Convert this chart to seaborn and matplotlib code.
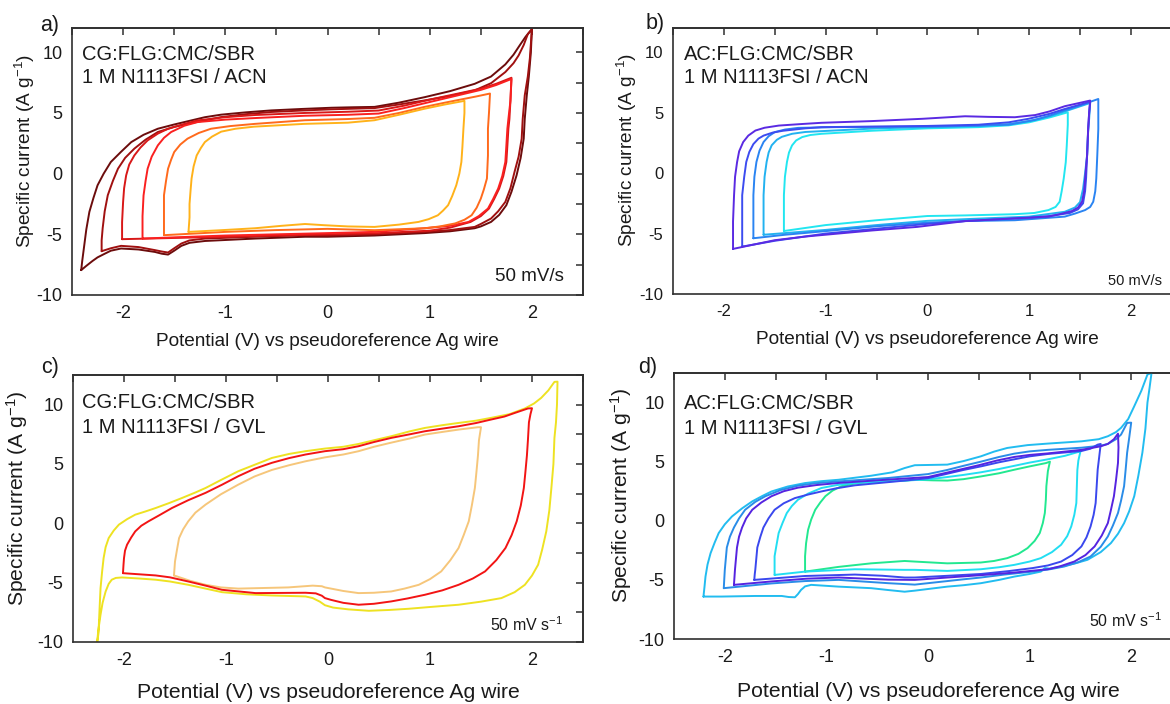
import matplotlib
matplotlib.use("Agg")
import matplotlib.pyplot as plt
from matplotlib.ticker import MultipleLocator
import seaborn as sns

# ---------------- data (potential E in V, specific current I in A/g) ----------------
# each loop: anodic branch (left -> right) followed by cathodic branch (right -> left)
# ---- Panel a: CG / ACN ----
a1_E = [-2.41, -2.40, -2.38, -2.36, -2.33, -2.29, -2.25, -2.19, -2.12, -2.02, -1.92, -1.8, -1.66, -1.5, -1.33, -1.2,
        -1.04, -0.8, -0.55, -0.25, 0.04, 0.25, 0.46, 0.7, 0.95, 1.2, 1.44, 1.6, 1.74, 1.82, 1.88, 1.94, 2.0,
        1.99, 1.97, 1.95, 1.93, 1.92, 1.89, 1.85, 1.8, 1.75, 1.68, 1.6, 1.5, 1.44, 1.2, 0.95, 0.46, 0.0, -0.22,
        -0.71, -1.2, -1.35, -1.43, -1.5, -1.56, -1.62, -1.69, -1.85, -2.02, -2.12, -2.18, -2.25, -2.3, -2.36, -2.41]
a1_I = [-7.95, -7.2, -5.9, -4.6, -3.15, -2.0, -0.96, 0.0, 0.96, 1.8, 2.6, 3.2, 3.7, 4.05, 4.39, 4.65,
        4.86, 5.05, 5.21, 5.33, 5.43, 5.47, 5.5, 5.85, 6.3, 6.8, 7.4, 8.0, 9.0, 9.8, 10.56, 11.3, 11.9,
        10.0, 8.0, 6.45, 4.5, 2.88, 1.3, -0.14, -1.5, -2.6, -3.4, -3.98, -4.35, -4.5, -4.75, -4.9, -5.1, -5.2, -5.2,
        -5.35, -5.55, -5.7, -5.95, -6.35, -6.67, -6.6, -6.45, -6.25, -6.17, -6.35, -6.6, -6.9, -7.2, -7.6, -7.95]
a2_E = [-2.21, -2.21, -2.2, -2.18, -2.15, -2.1, -2.05, -1.98, -1.89, -1.78, -1.66, -1.5, -1.33, -1.04, -0.8, -0.55,
        -0.25, 0.04, 0.46, 0.7, 0.95, 1.2, 1.44, 1.6, 1.74, 1.82, 1.87, 1.92, 1.96, 2.0,
        1.98, 1.96, 1.93, 1.91, 1.9, 1.87, 1.83, 1.79, 1.74, 1.67, 1.6, 1.5, 1.44, 1.2, 0.95, 0.46, 0.0, -0.22,
        -0.71, -1.2, -1.35, -1.43, -1.5, -1.56, -1.62, -1.69, -1.85, -2.02, -2.12, -2.21]
a2_I = [-6.39, -5.5, -4.5, -3.1, -1.78, -0.6, 0.41, 1.3, 2.06, 2.8, 3.43, 3.85, 4.17, 4.66, 4.9, 5.08,
        5.2, 5.3, 5.4, 5.7, 6.03, 6.4, 6.86, 7.45, 8.37, 9.1, 9.74, 10.6, 11.5, 11.9,
        9.5, 8.0, 6.45, 4.5, 2.88, 1.4, 0.14, -1.2, -2.33, -3.1, -3.7, -4.15, -4.39, -4.65, -4.8, -5.0, -5.1, -5.07,
        -5.2, -5.35, -5.5, -5.76, -6.15, -6.5, -6.42, -6.3, -6.05, -5.95, -6.15, -6.39]
a3_E = [-2.01, -2.01, -2.0, -1.99, -1.97, -1.94, -1.89, -1.83, -1.76, -1.66, -1.56, -1.4, -1.27, -1.0, -0.71, -0.22,
        0.2, 0.5, 0.75, 1.0, 1.25, 1.5, 1.65, 1.8,
        1.79, 1.78, 1.77, 1.76, 1.75, 1.72, 1.68, 1.63, 1.58, 1.5, 1.4, 1.2, 1.0, 0.5, 0.0, -0.5, -1.0, -1.5, -2.01]
a3_I = [-5.4, -4.0, -2.33, -1.2, -0.14, 0.75, 1.5, 2.15, 2.74, 3.3, 3.7, 4.1, 4.39, 4.65, 4.83, 5.0,
        5.1, 5.2, 5.6, 6.1, 6.55, 7.0, 7.4, 7.9,
        6.0, 4.5, 3.7, 2.3, 0.96, -0.2, -1.23, -2.1, -2.88, -3.5, -3.98, -4.45, -4.7, -4.9, -5.0, -5.1, -5.2, -5.3, -5.4]
a4_E = [-1.81, -1.81, -1.8, -1.78, -1.76, -1.72, -1.66, -1.6, -1.53, -1.4, -1.27, -1.0, -0.71, -0.22, 0.2, 0.5,
        0.75, 1.0, 1.25, 1.5, 1.65, 1.8,
        1.79, 1.77, 1.76, 1.75, 1.74, 1.71, 1.67, 1.62, 1.57, 1.48, 1.38, 1.2, 0.95, 0.46, 0.0, -0.5, -1.0, -1.5, -1.81]
a4_I = [-5.35, -3.5, -1.8, -0.6, 0.41, 1.4, 2.33, 2.95, 3.43, 3.95, 4.25, 4.45, 4.58, 4.77, 4.85, 4.95,
        5.4, 5.9, 6.4, 6.9, 7.3, 7.8,
        6.0, 4.5, 3.7, 2.3, 0.96, -0.2, -1.23, -2.1, -2.88, -3.5, -3.98, -4.3, -4.5, -4.8, -4.9, -5.0, -5.1, -5.25, -5.35]
a5_E = [-1.6, -1.6, -1.6, -1.58, -1.56, -1.53, -1.5, -1.44, -1.37, -1.26, -1.14, -0.95, -0.71, -0.22, 0.2, 0.46,
        0.7, 0.95, 1.15, 1.3, 1.45, 1.59,
        1.58, 1.57, 1.57, 1.56, 1.53, 1.5, 1.46, 1.41, 1.34, 1.25, 1.1, 0.95, 0.46, 0.0, -0.5, -1.0, -1.6]
a5_I = [-5.07, -3.4, -1.78, -0.6, 0.41, 1.15, 1.78, 2.4, 2.88, 3.35, 3.7, 3.92, 4.1, 4.4, 4.5, 4.6,
        5.0, 5.5, 5.85, 6.1, 6.35, 6.6,
        5.0, 3.7, 1.5, -0.4, -1.3, -2.06, -2.8, -3.43, -3.8, -4.1, -4.35, -4.5, -4.66, -4.55, -4.65, -4.8, -5.07]
a6_E = [-1.36, -1.35, -1.35, -1.34, -1.33, -1.31, -1.28, -1.24, -1.2, -1.13, -1.04, -0.9, -0.72, -0.23, 0.2, 0.46,
        0.7, 0.95, 1.15, 1.31, 1.34,
        1.34, 1.33, 1.32, 1.31, 1.29, 1.26, 1.22, 1.18, 1.13, 1.08, 0.99, 0.89, 0.7, 0.46, 0.2, -0.03, -0.22, -0.45,
        -0.71, -1.04, -1.36]
a6_I = [-4.8, -3.6, -2.5, -1.4, -0.4, 0.6, 1.5, 2.1, 2.6, 3.05, 3.46, 3.7, 3.87, 4.1, 4.2, 4.4,
        4.85, 5.35, 5.7, 5.95, 6.0,
        5.0, 3.7, 2.2, 0.96, 0.0, -0.96, -1.85, -2.6, -3.05, -3.43, -3.75, -3.98, -4.2, -4.39, -4.35, -4.25, -4.15, -4.3,
        -4.5, -4.66, -4.8]

# ---- Panel b: AC / ACN ----
b1_E = [-1.91, -1.91, -1.9, -1.89, -1.87, -1.85, -1.81, -1.76, -1.69, -1.6, -1.46, -1.25, -1.04, -0.55, -0.05, 0.37,
        0.6, 0.86, 1.06, 1.2, 1.35, 1.6,
        1.59, 1.58, 1.57, 1.55, 1.54, 1.52, 1.48, 1.42, 1.3, 1.19, 0.86, 0.37, -0.1, -0.55, -1.2, -1.5, -1.7, -1.91]
b1_I = [-6.27, -4.0, -1.83, -0.3, 0.92, 1.8, 2.57, 3.1, 3.52, 3.75, 3.93, 4.05, 4.16, 4.3, 4.49, 4.7,
        4.65, 4.62, 4.8, 5.1, 5.53, 6.0,
        5.0, 3.66, 1.5, -0.45, -1.5, -2.37, -2.85, -3.14, -3.4, -3.6, -3.74, -3.97, -4.45, -4.75, -5.25, -5.55, -5.9, -6.27]
b2_E = [-1.82, -1.82, -1.82, -1.8, -1.78, -1.75, -1.71, -1.66, -1.61, -1.52, -1.42, -1.2, -1.04, 0.0, 0.5, 0.8,
        1.0, 1.2, 1.35, 1.6,
        1.59, 1.58, 1.57, 1.56, 1.55, 1.53, 1.48, 1.4, 1.2, 1.0, 0.4, 0.0, -0.5, -1.0, -1.5, -1.82]
b2_I = [-6.08, -4.0, -1.83, -0.3, 0.92, 1.75, 2.4, 2.85, 3.1, 3.35, 3.5, 3.7, 3.8, 3.9, 4.0, 4.2,
        4.5, 4.9, 5.3, 5.9,
        5.0, 3.5, 1.5, -0.4, -1.5, -2.5, -3.0, -3.3, -3.55, -3.7, -3.95, -4.2, -4.6, -5.0, -5.6, -6.08]
b3_E = [-1.71, -1.71, -1.71, -1.7, -1.68, -1.65, -1.61, -1.56, -1.5, -1.4, -1.27, -0.9, 0.0, 0.4, 0.8, 1.06,
        1.2, 1.35, 1.5, 1.68,
        1.68, 1.68, 1.67, 1.66, 1.65, 1.63, 1.6, 1.55, 1.45, 1.35, 0.86, 0.37, 0.0, -0.5, -1.0, -1.4, -1.71]
b3_I = [-5.39, -3.6, -1.83, -0.3, 0.92, 1.85, 2.57, 3.05, 3.39, 3.6, 3.74, 3.8, 3.85, 3.9, 4.0, 4.4,
        4.75, 5.2, 5.6, 6.13,
        5.0, 3.66, 1.5, -0.45, -1.5, -2.37, -2.8, -3.06, -3.35, -3.6, -3.9, -3.97, -4.1, -4.4, -4.8, -5.1, -5.39]
b4_E = [-1.61, -1.61, -1.61, -1.6, -1.58, -1.56, -1.53, -1.48, -1.43, -1.33, -1.2, -0.5, 0.0, 0.5, 0.8, 1.0,
        1.2, 1.35, 1.6,
        1.59, 1.58, 1.57, 1.55, 1.53, 1.5, 1.45, 1.35, 1.0, 0.4, 0.0, -0.5, -1.0, -1.61]
b4_I = [-5.1, -3.5, -1.83, -0.3, 0.92, 1.7, 2.3, 2.75, 3.0, 3.25, 3.4, 3.7, 3.8, 3.9, 4.05, 4.3,
        4.7, 5.1, 5.8,
        4.5, 3.5, 1.5, 0.0, -1.3, -2.4, -2.85, -3.2, -3.6, -3.8, -3.95, -4.3, -4.7, -5.1]
b5_E = [-1.41, -1.41, -1.41, -1.4, -1.38, -1.36, -1.33, -1.29, -1.23, -1.15, -1.04, -0.55, 0.0, 0.5, 0.8, 1.0,
        1.2, 1.38,
        1.38, 1.37, 1.36, 1.34, 1.32, 1.3, 1.26, 1.19, 1.05, 0.86, 0.37, 0.0, -0.5, -1.0, -1.41]
b5_I = [-4.79, -3.3, -1.83, -0.3, 0.92, 1.7, 2.29, 2.7, 2.98, 3.15, 3.25, 3.5, 3.7, 3.8, 3.95, 4.2,
        4.6, 5.03,
        4.0, 2.29, 0.9, -0.45, -1.5, -2.37, -2.8, -3.06, -3.3, -3.4, -3.5, -3.55, -3.9, -4.3, -4.79]

# ---- Panel c: CG / GVL ----
c1_E = [-2.27, -2.26, -2.25, -2.24, -2.23, -2.215, -2.2, -2.18, -2.15, -2.1, -2.05, -1.97, -1.89, -1.79, -1.69,
        -1.56, -1.43, -1.3, -1.2, -1.05, -0.88, -0.7, -0.55, -0.38, -0.22, -0.03, 0.15, 0.3, 0.45, 0.62, 0.8, 0.95,
        1.12, 1.28, 1.45, 1.6, 1.78, 1.93, 2.02, 2.09, 2.16, 2.22, 2.25,
        2.245, 2.235, 2.22, 2.21, 2.19, 2.17, 2.14, 2.1, 2.06, 2.0, 1.93, 1.83, 1.7, 1.5, 1.28, 1.0, 0.79, 0.6, 0.4,
        0.2, 0.05, -0.03, -0.08, -0.15, -0.22, -0.55, -0.8, -1.04, -1.2, -1.37, -1.55, -1.69, -1.85, -2.02, -2.08,
        -2.12, -2.15, -2.18, -2.21, -2.23, -2.25, -2.27]
c1_I = [-10.5, -9.9, -9.24, -7.3, -5.46, -4.1, -2.93, -2.0, -1.24, -0.6, -0.11, 0.35, 0.73, 1.0, 1.29,
        1.7, 2.14, 2.6, 2.98, 3.65, 4.39, 5.0, 5.51, 5.85, 6.08, 6.3, 6.45, 6.69, 7.0, 7.34, 7.75, 8.04,
        8.27, 8.46, 8.65, 8.89, 9.2, 9.68, 10.1, 10.57, 11.2, 11.92, 11.94,
        10.0, 8.5, 7.2, 5.0, 2.98, 1.1, -0.68, -2.2, -3.49, -4.4, -5.18, -5.8, -6.3, -6.6, -6.86, -7.05, -7.2, -7.3, -7.37,
        -7.25, -7.1, -6.9, -6.6, -6.3, -6.16, -6.08, -5.98, -5.8, -5.5, -5.18, -4.9, -4.75, -4.65, -4.56, -4.6,
        -4.75, -5.1, -5.74, -6.7, -7.7, -8.9, -10.5]
c2_E = [-2.01, -2.005, -2.0, -1.99, -1.97, -1.93, -1.89, -1.83, -1.76, -1.65, -1.53, -1.37, -1.2, -1.04, -0.88, -0.72,
        -0.55, -0.38, -0.22, -0.03, 0.15, 0.3, 0.45, 0.62, 0.8, 0.95, 1.12, 1.28, 1.45, 1.6, 1.73, 1.83, 1.96, 2.0,
        1.985, 1.97, 1.96, 1.95, 1.935, 1.92, 1.89, 1.85, 1.8, 1.74, 1.65, 1.54, 1.42, 1.28, 1.12, 0.95, 0.78, 0.62,
        0.45, 0.3, 0.15, 0.03, -0.03, -0.06, -0.12, -0.22, -0.71, -1.04, -1.2, -1.37, -1.55, -1.69, -2.01]
c2_I = [-4.2, -3.5, -2.93, -2.3, -1.8, -1.2, -0.68, -0.2, 0.17, 0.7, 1.29, 1.95, 2.57, 3.25, 3.97, 4.6,
        5.1, 5.5, 5.8, 6.08, 6.25, 6.5, 6.85, 7.2, 7.5, 7.76, 7.98, 8.18, 8.45, 8.75, 9.0, 9.3, 9.68, 9.7,
        9.2, 8.52, 7.0, 5.7, 4.3, 2.98, 1.5, 0.17, -1.0, -2.08, -3.1, -4.05, -4.65, -5.18, -5.65, -6.02, -6.33, -6.58,
        -6.78, -6.86, -6.7, -6.45, -6.3, -6.1, -5.9, -5.85, -5.88, -5.6, -5.25, -4.9, -4.55, -4.39, -4.2]
c3_E = [-1.51, -1.505, -1.5, -1.48, -1.46, -1.42, -1.37, -1.3, -1.2, -1.05, -0.88, -0.72, -0.55, -0.38, -0.22, -0.03,
        0.15, 0.3, 0.45, 0.62, 0.8, 0.95, 1.12, 1.28, 1.47, 1.5,
        1.48, 1.47, 1.455, 1.44, 1.41, 1.38, 1.33, 1.28, 1.2, 1.11, 1.0, 0.89, 0.75, 0.62, 0.45, 0.3, 0.15, 0.03,
        -0.03, -0.06, -0.15, -0.39, -0.88, -1.05, -1.2, -1.35, -1.51]
c3_I = [-4.39, -3.8, -3.21, -2.2, -1.24, -0.5, 0.17, 0.9, 1.58, 2.45, 3.26, 3.95, 4.5, 4.9, 5.23, 5.56,
        5.8, 6.08, 6.45, 6.8, 7.15, 7.48, 7.7, 7.9, 8.1, 8.1,
        7.0, 5.7, 4.3, 2.98, 1.5, 0.17, -1.0, -2.08, -3.1, -4.05, -4.7, -5.18, -5.5, -5.74, -5.85, -5.88, -5.7, -5.5,
        -5.4, -5.3, -5.25, -5.4, -5.5, -5.4, -5.18, -4.85, -4.39]

# ---- Panel d: AC / GVL ----
d1_E = [-2.21, -2.2, -2.19, -2.17, -2.14, -2.1, -2.06, -2.0, -1.93, -1.83, -1.73, -1.63, -1.54, -1.38, -1.21, -1.05,
        -0.88, -0.56, -0.35, -0.23, -0.13, 0.0, 0.19, 0.35, 0.52, 0.65, 0.78, 0.98, 1.18, 1.51, 1.68, 1.77, 1.85,
        1.9, 1.97, 2.03, 2.1, 2.16, 2.2,
        2.18, 2.16, 2.14, 2.11, 2.07, 2.03, 1.98, 1.93, 1.87, 1.8, 1.7, 1.57, 1.45, 1.31, 1.2, 1.15, 1.11, 1.0, 0.85,
        0.7, 0.52, 0.35, 0.19, -0.13, -0.23, -0.4, -0.56, -0.88, -1.15, -1.21, -1.25, -1.28, -1.31, -1.37, -1.44,
        -1.7, -2.03, -2.21]
d1_I = [-6.41, -5.6, -4.72, -3.7, -2.74, -1.85, -1.04, -0.3, 0.36, 1.05, 1.64, 2.1, 2.48, 2.9, 3.19, 3.35,
        3.47, 3.81, 4.1, 4.46, 4.7, 4.72, 4.75, 5.05, 5.45, 5.85, 6.16, 6.4, 6.53, 6.72, 6.9, 7.15, 7.5,
        7.86, 8.6, 9.69, 11.0, 12.37, 12.5,
        11.2, 10.0, 7.8, 5.76, 3.8, 2.08, 0.8, -0.2, -1.1, -1.89, -2.65, -3.3, -3.6, -3.87, -4.05, -4.0, -4.3, -4.5,
        -4.72, -5.0, -5.28, -5.45, -5.57, -5.91, -6.0, -5.85, -5.7, -5.57, -5.42, -5.55, -5.85, -6.2, -6.47, -6.45,
        -6.36, -6.36, -6.41, -6.41]
d2_E = [-2.01, -2.005, -2.0, -1.99, -1.98, -1.95, -1.91, -1.86, -1.8, -1.7, -1.6, -1.45, -1.28, -1.1, -0.88, -0.39,
        0.0, 0.19, 0.35, 0.52, 0.7, 0.85, 1.0, 1.18, 1.51, 1.7, 1.77, 1.85, 1.9, 1.96, 2.0,
        1.98, 1.96, 1.945, 1.93, 1.9, 1.87, 1.82, 1.77, 1.7, 1.6, 1.48, 1.34, 1.2, 1.03, 0.75, 0.52, 0.35, 0.19,
        -0.13, -0.39, -0.88, -1.21, -1.54, -2.01]
d2_I = [-5.7, -4.9, -4.15, -3.2, -2.26, -1.35, -0.57, 0.2, 0.93, 1.6, 2.08, 2.6, 2.97, 3.18, 3.33, 3.62,
        3.95, 4.3, 4.65, 5.0, 5.4, 5.68, 5.87, 6.0, 6.18, 6.35, 6.5, 6.9, 7.29, 8.28, 8.3,
        7.0, 5.76, 4.3, 2.93, 1.7, 0.66, -0.4, -1.33, -2.2, -3.02, -3.5, -3.87, -4.1, -4.3, -4.55, -4.8, -4.95, -5.1,
        -5.4, -5.28, -5.0, -5.1, -5.3, -5.7]
d3_E = [-1.91, -1.905, -1.9, -1.89, -1.88, -1.86, -1.83, -1.79, -1.73, -1.64, -1.54, -1.42, -1.28, -1.1, -0.88, -0.45,
        0.0, 0.25, 0.5, 0.68, 0.85, 1.0, 1.18, 1.51, 1.7, 1.77, 1.83, 1.87,
        1.875, 1.87, 1.85, 1.83, 1.8, 1.77, 1.71, 1.64, 1.55, 1.44, 1.3, 1.18, 1.0, 0.85, 0.52, 0.19, -0.13, -0.39,
        -0.88, -1.2, -1.54, -1.91]
d3_I = [-5.42, -4.8, -4.15, -3.2, -2.26, -1.35, -0.57, 0.2, 0.93, 1.55, 2.08, 2.5, 2.8, 3.02, 3.2, 3.45,
        3.7, 4.2, 4.7, 5.1, 5.4, 5.57, 5.7, 6.0, 6.3, 6.5, 6.9, 7.37,
        6.2, 4.9, 3.4, 2.08, 0.9, -0.2, -1.25, -2.17, -2.9, -3.45, -3.85, -4.1, -4.25, -4.38, -4.6, -4.8, -5.0, -4.98,
        -4.8, -4.9, -5.13, -5.42]
d4_E = [-1.71, -1.705, -1.7, -1.69, -1.68, -1.65, -1.62, -1.57, -1.51, -1.42, -1.31, -1.18, -1.05, -0.9, -0.72, -0.45,
        -0.23, 0.0, 0.19, 0.35, 0.52, 0.7, 0.85, 1.0, 1.18, 1.51, 1.6, 1.67, 1.7,
        1.685, 1.67, 1.66, 1.65, 1.63, 1.6, 1.56, 1.51, 1.42, 1.31, 1.18, 1.03, 0.8, 0.52, 0.2, -0.13, -0.23, -0.45,
        -0.72, -1.21, -1.71]
d4_I = [-5.0, -4.5, -4.15, -3.2, -2.26, -1.35, -0.57, 0.2, 0.93, 1.48, 1.92, 2.22, 2.48, 2.75, 3.0, 3.22,
        3.4, 3.6, 3.98, 4.3, 4.6, 4.95, 5.2, 5.45, 5.65, 5.9, 6.1, 6.44, 6.5,
        5.4, 4.32, 2.9, 1.5, 0.5, -0.48, -1.4, -2.17, -2.9, -3.45, -3.78, -4.0, -4.25, -4.5, -4.65, -4.8, -4.8, -4.65,
        -4.55, -4.67, -5.0]
d5_E = [-1.51, -1.51, -1.51, -1.49, -1.47, -1.43, -1.39, -1.34, -1.28, -1.18, -1.05, -0.9, -0.72, -0.23, 0.0, 0.19,
        0.35, 0.52, 0.7, 0.85, 1.0, 1.18, 1.35, 1.47, 1.5,
        1.48, 1.47, 1.465, 1.46, 1.44, 1.41, 1.37, 1.31, 1.22, 1.11, 1.0, 0.85, 0.7, 0.52, 0.19, -0.13, -0.23, -0.72,
        -1.21, -1.51]
d5_I = [-4.58, -3.8, -3.0, -2.0, -1.04, -0.15, 0.65, 1.25, 1.78, 2.3, 2.77, 3.02, 3.2, 3.4, 3.5, 3.7,
        3.88, 4.1, 4.38, 4.65, 4.92, 5.2, 5.5, 5.8, 5.85,
        5.1, 4.3, 2.9, 1.5, 0.5, -0.48, -1.3, -2.03, -2.65, -3.16, -3.45, -3.73, -3.93, -4.1, -4.24, -4.15, -4.15, -4.1,
        -4.3, -4.58]
d6_E = [-1.21, -1.21, -1.21, -1.2, -1.18, -1.15, -1.11, -1.06, -1.01, -0.94, -0.85, -0.72, -0.56, -0.23, -0.13, 0.05,
        0.19, 0.35, 0.52, 0.7, 0.85, 1.0, 1.16, 1.2,
        1.18, 1.165, 1.16, 1.15, 1.13, 1.1, 1.05, 0.98, 0.89, 0.78, 0.65, 0.52, 0.19, -0.13, -0.23, -0.56, -0.88, -1.21]
d6_I = [-4.3, -3.6, -3.0, -1.9, -0.76, 0.1, 0.93, 1.55, 2.08, 2.55, 2.93, 3.15, 3.3, 3.4, 3.47, 3.42,
        3.4, 3.52, 3.75, 4.02, 4.32, 4.6, 4.88, 5.0,
        4.2, 2.93, 1.8, 0.66, -0.2, -1.04, -1.7, -2.31, -2.8, -3.16, -3.4, -3.53, -3.6, -3.45, -3.4, -3.6, -3.9, -4.3]

x_ticks = [-2, -1, 0, 1, 2]
y_ticks = [-10, -5, 0, 5, 10]
panel_letters = ["a)", "b)", "c)", "d)"]
panel_text1 = ["CG:FLG:CMC/SBR", "AC:FLG:CMC/SBR", "CG:FLG:CMC/SBR", "AC:FLG:CMC/SBR"]
panel_text2 = ["1 M N1113FSI / ACN", "1 M N1113FSI / ACN", "1 M N1113FSI / GVL", "1 M N1113FSI / GVL"]
rate_text = ["50 mV/s", "50 mV/s", "50 mV s$^{-1}$", "50 mV s$^{-1}$"]
xlabel = "Potential (V) vs pseudoreference Ag wire"
ylabel = "Specific current (A g$^{-1}$)"

curves_a = [(a1_E, a1_I, "#6c0c0c"), (a2_E, a2_I, "#a01010"), (a3_E, a3_I, "#d81818"),
            (a4_E, a4_I, "#fa2020"), (a5_E, a5_I, "#ff6a1c"), (a6_E, a6_I, "#ffb21a")]
curves_b = [(b5_E, b5_I, "#22e6f0"), (b4_E, b4_I, "#22b2f0"), (b3_E, b3_I, "#2a84f2"),
            (b2_E, b2_I, "#3c4cf0"), (b1_E, b1_I, "#5a2ae2")]
curves_c = [(c3_E, c3_I, "#f6c67a"), (c1_E, c1_I, "#eee222"), (c2_E, c2_I, "#f21414")]
curves_d = [(d6_E, d6_I, "#22e890"), (d5_E, d5_I, "#22def2"), (d1_E, d1_I, "#22bcf0"),
            (d2_E, d2_I, "#2a8ce8"), (d4_E, d4_I, "#3a48ee"), (d3_E, d3_I, "#5524e0")]

# ---------------- styling ----------------
sns.set_style("white")
plt.rcParams["font.family"] = ["Liberation Sans", "DejaVu Sans"]
plt.rcParams["mathtext.fontset"] = "custom"
plt.rcParams["mathtext.rm"] = "Liberation Sans"
plt.rcParams["mathtext.default"] = "regular"
plt.rcParams["axes.unicode_minus"] = False

W, H = 1170, 704
fig = plt.figure(figsize=(W / 100, H / 100), dpi=100)
fig.patch.set_facecolor("white")

# axes placement in pixels: left, top, right, bottom
boxes = [(72, 28, 583, 295), (673, 28, 1181.75, 294), (73, 375, 583, 642), (674, 373, 1182, 639)]
ylims = [(-10, 12), (-10, 12), (-10, 12.5), (-10, 12.5)]
tick_fs = [13, 12, 13, 13]
label_fs = [13.7, 13.7, 15.2, 15.2]
text_y = [(0.881, 0.794), (0.881, 0.794), (0.876, 0.784), (0.8635, 0.771)]
text_x = [0.0196, 0.021, 0.018, 0.019]
rate_pos = [(0.963, 0.052, 13.5), (0.961, 0.034, 10.5), (0.961, 0.04, 11.5), (0.96, 0.044, 11.5)]
xlab_y = [-0.142, -0.139, -0.154, -0.162]
ylab_x = [-0.0685, -0.067, -0.084, -0.079]
letter_pos = [(50, 25), (655, 24), (50, 368), (648, 367)]
spine_col = "#2f2f2f"

all_curves = [curves_a, curves_b, curves_c, curves_d]
for k in range(4):
    l, t, r, b = boxes[k]
    ax = fig.add_axes([l / W, 1 - b / H, (r - l) / W, (b - t) / H])
    for E, I, col in all_curves[k]:
        sns.lineplot(x=E, y=I, sort=False, estimator=None, color=col, lw=1.4, ax=ax,
                     solid_joinstyle="round", solid_capstyle="round")
    ax.set_xlim(-2.5, 2.5)
    ax.set_ylim(*ylims[k])
    ax.set_xticks(x_ticks)
    ax.set_yticks(y_ticks)
    ax.xaxis.set_minor_locator(MultipleLocator(0.5))
    ax.yaxis.set_minor_locator(MultipleLocator(2.5))
    ax.tick_params(which="both", direction="out", color=spine_col, width=1.1,
                   labelsize=tick_fs[k], labelcolor="#1a1a1a", top=False, right=False)
    ax.tick_params(which="major", length=5, pad=2)
    ax.tick_params(which="minor", length=4)
    for s in ax.spines.values():
        s.set_color(spine_col)
        s.set_linewidth(1.2)
    # inward mirror ticks on top and right
    sx = ax.secondary_xaxis("top")
    sx.xaxis.set_major_locator(MultipleLocator(0.5))
    sx.tick_params(direction="in", length=5, width=1.1, color=spine_col, labeltop=False)
    sx.spines["top"].set_color(spine_col)
    sx.spines["top"].set_linewidth(1.2)
    sy = ax.secondary_yaxis("right")
    sy.yaxis.set_major_locator(MultipleLocator(2.5))
    sy.tick_params(direction="in", length=5, width=1.1, color=spine_col, labelright=False)
    sy.spines["right"].set_color(spine_col)
    sy.spines["right"].set_linewidth(1.2)

    ax.set_xlabel(xlabel, fontsize=label_fs[k], color="#1a1a1a")
    ax.set_ylabel(ylabel, fontsize=label_fs[k], color="#1a1a1a")
    ax.xaxis.set_label_coords(0.5, xlab_y[k])
    ax.yaxis.set_label_coords(ylab_x[k], 0.54)

    ax.text(text_x[k], text_y[k][0], panel_text1[k], transform=ax.transAxes, fontsize=14.5,
            va="baseline", ha="left", color="#1a1a1a")
    ax.text(text_x[k], text_y[k][1], panel_text2[k], transform=ax.transAxes, fontsize=14.5,
            va="baseline", ha="left", color="#1a1a1a")
    rx, ry, rfs = rate_pos[k]
    ax.text(rx, ry, rate_text[k], transform=ax.transAxes, fontsize=rfs, va="baseline",
            ha="right", color="#1a1a1a")
    lx, ly = letter_pos[k]
    fig.text(lx / W, 1 - ly / H, panel_letters[k], fontsize=15.5, ha="center", va="center",
             color="#1a1a1a")

fig.savefig("out.png", dpi=100, facecolor="white")
